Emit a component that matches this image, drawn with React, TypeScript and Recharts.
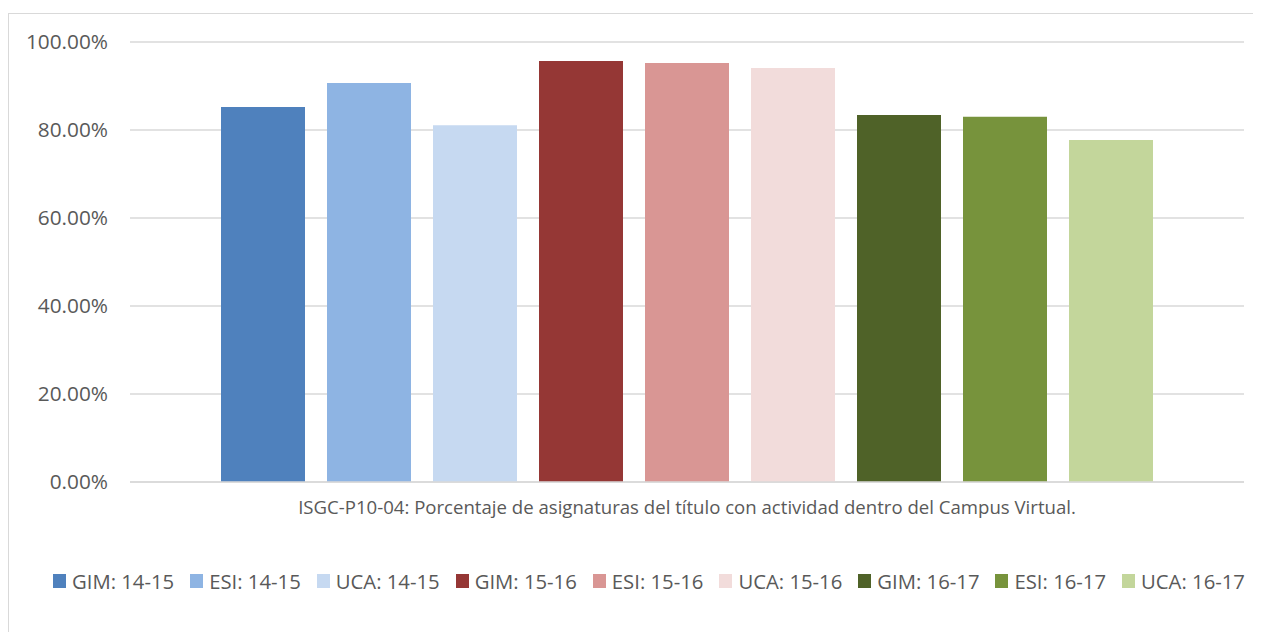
import { Bar, BarChart, CartesianGrid, Legend, XAxis, YAxis } from "recharts";

const category = "ISGC-P10-04: Porcentaje de asignaturas del título con actividad dentro del Campus Virtual.";
const seriesNames = [
  "GIM: 14-15",
  "ESI: 14-15",
  "UCA: 14-15",
  "GIM: 15-16",
  "ESI: 15-16",
  "UCA: 15-16",
  "GIM: 16-17",
  "ESI: 16-17",
  "UCA: 16-17",
];
const seriesValues = [0.852, 0.907, 0.811, 0.957, 0.952, 0.941, 0.834, 0.83, 0.777];
const seriesColors = [
  "#4f81bd",
  "#8eb4e3",
  "#c6d9f1",
  "#953735",
  "#d99694",
  "#f2dcdb",
  "#4f6228",
  "#77933c",
  "#c3d69b",
];
const yTicks = [0, 0.2, 0.4, 0.6, 0.8, 1];

const row: Record<string, string | number> = { name: category };
seriesNames.forEach((n, i) => {
  row[n] = seriesValues[i];
});
const data = [row];

const font = "'Open Sans', 'Noto Sans', sans-serif";
const textColor = "#595959";
const gridColor = "#d9d9d9";

function LegendBox() {
  return (
    <div
      style={{
        height: 110,
        boxSizing: "border-box",
        paddingTop: 7,
        paddingLeft: 44,
        display: "flex",
        alignItems: "center",
        fontFamily: font,
        fontSize: 20.3,
        color: textColor,
        lineHeight: "24px",
        whiteSpace: "nowrap",
      }}
    >
      {seriesNames.map((n, i) => (
        <span key={n} style={{ display: "inline-flex", alignItems: "center", marginRight: 16 }}>
          <span
            style={{
              width: 13,
              height: 14,
              background: seriesColors[i],
              display: "inline-block",
              marginRight: 6,
            }}
          />
          {n}
        </span>
      ))}
    </div>
  );
}

export default function App() {
  return (
    <div style={{ paddingTop: 5 }}>
      <div
        style={{
          width: 1252,
          height: 618,
          borderLeft: `1px solid ${gridColor}`,
          borderTop: `1px solid ${gridColor}`,
          overflow: "hidden",
          background: "#fff",
        }}
      >
        <BarChart
          width={1252}
          height={618}
          data={data}
          margin={{ top: 28, right: 17, bottom: 0, left: 0 }}
          barSize={84}
          barGap={22}
        >
          <CartesianGrid vertical={false} stroke={gridColor} strokeWidth={1.3} />
          <XAxis
            dataKey="name"
            height={40}
            tickSize={0}
            tickMargin={19}
            axisLine={{ stroke: gridColor, strokeWidth: 1.5 }}
            tick={{ fill: textColor, fontSize: 18.6, fontFamily: font }}
          />
          <YAxis
            width={121}
            domain={[0, 1]}
            ticks={yTicks}
            tickSize={0}
            tickMargin={22}
            axisLine={false}
            tickLine={false}
            tickFormatter={(v: number) => `${(v * 100).toFixed(2)}%`}
            tick={{ fill: textColor, fontSize: 20.8, fontFamily: font }}
          />
          <Legend verticalAlign="bottom" content={() => <LegendBox />} />
          {seriesNames.map((n, i) => (
            <Bar key={n} dataKey={n} fill={seriesColors[i]} isAnimationActive={false} />
          ))}
        </BarChart>
      </div>
    </div>
  );
}
